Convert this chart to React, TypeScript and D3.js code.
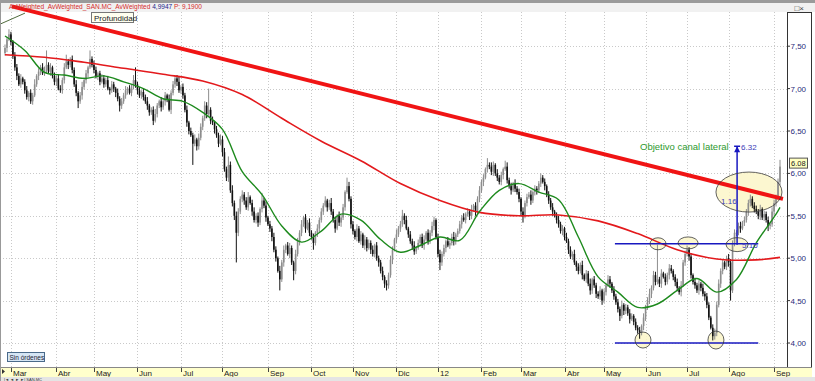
import React from 'react';
import * as d3 from 'd3';

// Daily closes (Feb-2011 tail .. Sep-2012), one per trading day
const closes = [
7.48,7.58,7.64,7.55,7.38, 7.25,7.15,7.05,7.12,7.08,
6.98,6.90,6.95,6.85,6.92, 7.05,7.15,7.20,7.25,7.18,
7.22,7.28,7.20,7.25,7.15, 7.08,7.12,7.00,6.98,7.10,
7.25,7.32,7.28,7.35,7.22, 7.05,6.95,6.85,6.92,7.02,
7.10,7.18,7.25,7.35,7.28, 7.22,7.15,7.18,7.08,7.12,
7.05,7.10,7.00,6.98,7.05, 7.00,6.95,6.88,6.80,6.85,
6.92,6.98,7.00,6.95,7.02, 7.10,7.05,6.98,6.92,6.96,
6.90,6.85,6.80,6.72,6.75, 6.62,6.70,6.80,6.85,6.78,
6.85,6.92,6.88,6.75,6.95, 7.05,7.12,7.08,6.98,7.02,
6.92,6.75,6.60,6.50,6.45, 6.35,6.40,6.32,6.42,6.55,
6.65,6.80,6.70,6.75,6.62, 6.60,6.52,6.45,6.35,6.40,
6.25,6.05,5.95,6.10,5.80, 5.65,5.50,5.30,5.55,5.70,
5.75,5.68,5.60,5.72,5.65, 5.55,5.45,5.50,5.42,5.58,
5.68,5.62,5.48,5.40,5.35, 5.25,5.10,5.00,4.85,4.75,
4.95,5.10,5.15,5.05,5.12, 4.95,4.85,5.05,5.20,5.30,
5.40,5.48,5.35,5.42,5.30, 5.25,5.18,5.30,5.35,5.45,
5.55,5.62,5.68,5.60,5.65, 5.55,5.45,5.35,5.50,5.42,
5.48,5.60,5.78,5.85,5.70, 5.40,5.32,5.25,5.35,5.20,
5.28,5.15,5.22,5.12,5.18, 5.10,5.05,5.15,5.00,4.95,
4.85,4.78,4.70,4.68,4.80, 4.98,5.10,5.22,5.28,5.35,
5.40,5.50,5.45,5.35,5.28, 5.20,5.15,5.08,5.12,5.18,
5.25,5.15,5.22,5.30,5.20, 5.30,5.38,5.45,5.25,5.05,
4.95,5.05,5.12,5.20,5.15, 5.18,5.25,5.20,5.28,5.32,
5.40,5.48,5.45,5.52,5.55, 5.50,5.58,5.62,5.55,5.70,
5.80,5.90,5.95,6.05,6.10, 6.08,6.02,6.10,6.00,5.95,
5.90,5.98,6.05,6.08,5.92, 5.85,5.80,5.88,5.82,5.78,
5.70,5.55,5.50,5.65,5.72, 5.75,5.68,5.78,5.82,5.80,
5.88,5.95,5.90,5.85,5.75, 5.68,5.60,5.55,5.50,5.45,
5.40,5.32,5.35,5.25,5.20, 5.10,5.02,5.05,4.95,4.90,
4.85,4.92,4.80,4.75,4.82, 4.70,4.62,4.75,4.68,4.58,
4.55,4.62,4.50,4.60,4.68, 4.75,4.70,4.62,4.55,4.48,
4.40,4.32,4.45,4.38,4.42, 4.35,4.28,4.32,4.25,4.18,
4.15,4.12,4.20,4.30,4.42, 4.50,4.58,4.65,4.80,4.72,
4.75,4.70,4.82,4.78,4.72, 4.80,4.88,4.85,4.78,4.72,
4.65,4.60,4.68,4.95,5.05, 5.10,5.02,4.80,4.72,4.68,
4.62,4.70,4.65,4.58,4.55, 4.45,4.30,4.18,4.08,4.12,
4.45,4.70,4.85,4.95,4.90, 5.00,4.95,4.62,5.18,5.30,
5.30,5.38,5.35,5.42,5.45, 5.55,5.65,5.70,5.62,5.58,
5.55,5.50,5.58,5.48,5.52, 5.45,5.38,5.40,5.55,5.65,
5.72,5.90,6.08
];
const firstOpen = 7.42;

// Upper / lower shadows, in cents
const upperWicks = [
4,3,6,3,2,5,4,3,5,2, 3,5,2,4,3,6,2,4,3,5, 4,17,3,5,2,4,3,5,4,3, 5,8,3,2,4,3,5,2,4,6,
3,4,2,10,3,5,4,2,3,5, 4,3,5,2,4,3,2,5,3,4, 3,5,2,4,3,6,15,3,4,2, 4,3,5,2,3,4,6,3,2,5,
3,4,2,5,3,4,3,4,6,2, 4,3,5,2,4,3,6,2,5,4, 3,5,4,25,3,5,2,4,3,6, 4,5,3,10,4,6,3,5,4,3,
5,3,4,6,2,4,5,3,4,2, 9,3,5,2,4,3,5,4,2,6, 3,5,2,4,6,3,2,5,4,3, 5,2,4,3,5,3,4,2,5,3,
4,3,5,2,4,6,3,4,2,5, 3,4,2,10,5,3,4,2,5,3, 4,2,5,3,4,3,5,2,4,3, 3,5,2,4,3,5,4,2,6,3,
4,7,3,5,2,4,3,5,2,4, 3,4,5,2,4,3,5,4,2,4, 5,3,4,2,5,3,4,6,2,3, 4,3,5,2,4,3,5,2,4,3,
5,3,4,2,8,3,5,4,2,5, 3,4,2,7,5,3,4,2,5,3, 4,2,5,3,4,3,5,2,4,3, 3,5,3,4,2,4,3,5,2,4,
5,3,4,2,5,3,4,3,5,2, 4,3,5,2,4,3,6,2,4,3, 3,5,2,4,3,5,4,2,5,3, 4,3,5,2,4,3,5,3,2,4,
3,4,2,5,3,4,6,3,5,4, 41,3,5,2,4,3,5,4,2,3, 4,2,5,3,4,5,3,4,2,5, 3,4,2,5,3,4,3,2,4,5,
4,5,3,4,2,3,5,4,3,4, 3,4,5,2,4,3,4,5,3,4, 4,3,5,2,4,3,4,3,5,4, 3,4,8
];
const lowerWicks = [
3,5,2,4,3,4,5,2,4,3, 4,3,5,3,4,2,3,5,4,2, 3,4,2,5,3,4,5,2,3,4, 4,2,5,3,4,3,4,8,3,5,
3,4,5,2,3,4,3,5,4,2, 4,3,2,5,3,4,5,3,7,4, 3,4,5,2,4,3,4,5,3,4, 4,3,5,4,3,5,2,4,3,5,
3,5,4,2,5,3,4,5,3,4, 4,3,5,4,2,25,3,5,4,3, 4,3,5,2,4,3,5,3,4,2, 5,3,4,5,3,4,5,35,4,3,
4,5,3,4,2,5,3,4,5,3, 4,3,5,2,4,5,3,4,2,13, 3,5,4,2,5,3,11,4,3,5, 4,3,5,2,4,3,8,3,5,4,
3,4,2,5,3,4,3,5,2,4, 5,3,4,2,3,5,4,3,5,2, 4,3,5,4,2,5,3,4,3,5, 3,4,5,6,4,3,5,2,4,3,
4,3,5,2,4,3,5,4,3,2, 4,3,5,2,4,3,4,5,3,4, 9,4,3,5,2,4,3,5,4,3, 3,5,2,4,3,5,4,3,5,4,
4,3,5,2,4,3,4,5,3,4, 3,4,5,2,4,3,5,2,4,3, 4,5,8,3,4,2,5,3,4,5, 3,4,2,5,3,4,3,5,2,4,
4,3,5,4,2,5,3,4,3,5, 4,3,5,2,4,3,5,4,3,5, 3,4,5,3,4,2,5,3,4,3, 4,6,3,5,4,3,5,2,4,3,
4,7,3,5,4,3,4,5,3,4, 3,4,5,2,4,3,5,3,4,5, 4,3,5,2,4,3,5,4,3,4, 3,5,4,3,5,4,3,2,5,4,
4,3,5,4,3,4,5,12,3,4, 4,3,5,2,4,3,5,4,3,4, 3,4,5,3,4,3,6,4,3,5, 4,3,4
];

// Short moving average (green), sampled every 10 sessions, last at session 392
const fastMA = [7.62,7.45,7.19,7.16,7.12,7.15,7.08,7.00,6.88,6.85,6.72,6.52,6.02,5.75,5.38,5.19,5.32,5.52,5.45,5.22,
  5.07,5.15,5.25,5.21,5.55,5.80,5.88,5.78,5.69,5.25,4.78,4.60,4.42,4.46,4.62,4.76,4.60,4.75,5.18,5.52,5.60];
// Long moving average (red), sampled every 20 sessions, last at session 392
const slowMA = [7.40,7.37,7.31,7.24,7.17,7.09,6.93,6.65,6.38,6.15,5.88,5.68,5.54,5.50,5.51,5.44,5.29,5.10,4.99,4.98,5.01];

const monthLabels = ['Mar','Abr','May','Jun','Jul','Ago','Sep','Oct','Nov','Dic','12','Feb','Mar','Abr','May','Jun','Jul','Ago','Sep'];
const monthStarts = [3,26,45,67,89,110,133,155,176,198,219,241,261,283,303,324,345,366,389];
const priceTicks = [4,4.5,5,5.5,6,6.5,7,7.5];

// Drawn annotations (session index, price)
const trendLine = [[3.5,7.97],[393.5,5.70]];
const topLeftLine = [[-2.5,7.76],[10.1,7.89]];
const channelTop = 5.17;
const channelBottom = 4.0;
const channelRange = [308.5, 381];
const targetIdx = 370.3;
const targetFrom = 5.16;
const targetTo = 6.32;
const ellipseIdx = [376.3, 330.3, 345.5, 370.3, 322.7, 359.6];
const ellipsePrice = [5.78, 5.17, 5.18, 5.16, 4.035, 4.035];
const lastPrice = 6.08;

export default function App() {
  const x = d3.scaleLinear().domain([0, 392]).range([5, 780]);
  const y = d3.scaleLinear().domain([4, 7.5]).range([343, 46.2]);
  const plotR = 787;
  const axisTop = 367;

  const bars = closes.map((c, i) => {
    const o = i === 0 ? firstOpen : closes[i - 1];
    const h = Math.max(o, c) + upperWicks[i] / 100;
    const l = Math.min(o, c) - lowerWicks[i] / 100;
    return { i, o, c, h, l, up: c >= o };
  });

  const fastPts = fastMA.map((v, k) => [k < 40 ? k * 10 : 392, v]);
  const slowPts = slowMA.map((v, k) => [k < 20 ? k * 20 : 392, v]);
  const line = d3.line<number[]>().x(d => x(d[0])).y(d => y(d[1])).curve(d3.curveCatmullRom.alpha(0.5));
  const straight = d3.line<number[]>().x(d => x(d[0])).y(d => y(d[1]));

  const radii = [[33, 20], [8, 6], [10, 6], [11, 7], [8, 8], [8, 9]];
  const fmt = (v: number) => v.toFixed(2).replace('.', ',');
  const font = "'Liberation Sans', Arial, sans-serif";
  const tx = x(targetIdx);
  const tagY = y(lastPrice) - 2;

  return (
    <svg width={815} height={381} style={{ position: 'absolute', left: 0, top: 0, background: '#fff', fontFamily: font }}>
      <defs>
        <clipPath id="plot"><rect x={0} y={3} width={plotR} height={axisTop - 3} /></clipPath>
      </defs>
      <rect x={0} y={0} width={815} height={381} fill="#fff" />
      <rect x={0} y={3} width={815} height={9} fill="#f1f1f1" />
      <rect x={0} y={0} width={815} height={3} fill="#9a9a9a" />

      {/* grid */}
      <g stroke="#c9c9c9" strokeWidth={1} strokeDasharray="1,2">
        {priceTicks.map(t => <line key={'h' + t} x1={0} x2={plotR} y1={Math.round(y(t)) + 0.5} y2={Math.round(y(t)) + 0.5} />)}
        {monthStarts.map((m, k) => <line key={'v' + k} x1={Math.round(x(m)) + 0.5} x2={Math.round(x(m)) + 0.5} y1={12} y2={axisTop} />)}
      </g>

      <g clipPath="url(#plot)">
        {/* ellipse fills */}
        {ellipseIdx.map((ei, k) => (
          <ellipse key={'ef' + k} cx={x(ei)} cy={y(ellipsePrice[k])} rx={radii[k][0]} ry={radii[k][1]} fill="#fbf6c8" opacity={0.85} />
        ))}
        {/* candles */}
        {bars.map(b => {
          const col = b.up ? '#8d8d8d' : '#111';
          const yt = y(Math.max(b.o, b.c));
          const hh = Math.max(1, Math.abs(y(b.o) - y(b.c)));
          return (
            <g key={b.i}>
              <line x1={x(b.i)} x2={x(b.i)} y1={y(b.h)} y2={y(b.l)} stroke={col} strokeWidth={1} />
              <rect x={x(b.i) - 0.8} y={yt} width={1.6} height={hh} fill={col} />
            </g>
          );
        })}
        <path d={line(slowPts) || ''} fill="none" stroke="#e3191c" strokeWidth={1.6} />
        <path d={line(fastPts) || ''} fill="none" stroke="#1d8a1d" strokeWidth={1.4} />
        <path d={straight(topLeftLine) || ''} fill="none" stroke="#4f6b3c" strokeWidth={1} />
        <path d={straight(trendLine) || ''} fill="none" stroke="#f01414" strokeWidth={4} />

        {/* channel */}
        <g stroke="#1818c0" strokeWidth={1.5}>
          <line x1={x(channelRange[0])} x2={x(channelRange[1])} y1={y(channelTop)} y2={y(channelTop)} />
          <line x1={x(channelRange[0])} x2={x(channelRange[1])} y1={y(channelBottom)} y2={y(channelBottom)} />
          <line x1={tx} x2={tx} y1={y(targetFrom)} y2={y(targetTo)} />
          <line x1={tx - 3} x2={tx + 3} y1={y(targetTo)} y2={y(targetTo)} />
        </g>
        <polygon points={`${tx},${y(targetTo)} ${tx - 3},${y(targetTo) + 6} ${tx + 3},${y(targetTo) + 6}`} fill="#1818c0" />
        {/* ellipse outlines */}
        {ellipseIdx.map((ei, k) => (
          <ellipse key={'eo' + k} cx={x(ei)} cy={y(ellipsePrice[k])} rx={radii[k][0]} ry={radii[k][1]} fill="none" stroke="#3a3a3a" strokeWidth={0.8} />
        ))}
        <text x={tx + 4} y={y(targetTo) + 4} fontSize={8} fill="#3b3bb8">6.32</text>
        <text x={tx - 16} y={y((targetFrom + targetTo) / 2) + 9} fontSize={8} fill="#3b3bb8">1.16</text>
        <text x={tx + 5} y={y(targetFrom) + 3} fontSize={8} fill="#3b3bb8">5.16</text>
        <text x={640} y={150} fontSize={9.5} fill="#2e9a2e">Objetivo canal lateral</text>
      </g>

      {/* title */}
      <text x={9} y={8.5} fontSize={6.5} textLength={193} lengthAdjust="spacingAndGlyphs">
        <tspan fill="#d42a2a">AvWeighted_AvWeighted_SAN.MC_AvWeighted</tspan>
        <tspan fill="#22228a"> 4,9947</tspan>
        <tspan fill="#d42a2a"> P: 9,1900</tspan>
      </text>
      <rect x={91.5} y={12.5} width={42} height={10} fill="#fffff0" stroke="#777" strokeWidth={1} />
      <text x={94} y={20.5} fontSize={8} fill="#222">Profundidad</text>
      <text x={790} y={11} fontSize={8} fill="#444">_□×</text>

      {/* right axis */}
      <rect x={787.5} y={12.5} width={24} height={axisTop - 12} fill="#fff" stroke="#333" strokeWidth={1} />
      {priceTicks.map(t => (
        <g key={'t' + t}>
          <line x1={787} x2={790} y1={y(t)} y2={y(t)} stroke="#333" />
          <text x={790.5} y={y(t) + 3} fontSize={8} fill="#2a2a7a">{fmt(t)}</text>
        </g>
      ))}
      <rect x={789.5} y={tagY - 6.5} width={18} height={10} fill="#ffffc0" stroke="#555" strokeWidth={1} />
      <text x={791} y={tagY + 1.5} fontSize={7.5} fill="#222">{lastPrice.toFixed(2)}</text>

      {/* orders button */}
      <rect x={7.5} y={352.5} width={37} height={9} fill="#d6e6f5" stroke="#4a6a8a" strokeWidth={1} />
      <text x={9.5} y={359.5} fontSize={6.5} fill="#223">Sin órdenes</text>

      {/* time axis */}
      <rect x={0} y={axisTop} width={812} height={10} fill="#ffffcc" />
      <line x1={0} x2={812} y1={axisTop + 0.5} y2={axisTop + 0.5} stroke="#888" />
      <polygon points={`2,369 5,371.5 2,374`} fill="#333" />
      {monthStarts.map((m, k) => (
        <g key={'m' + k}>
          <line x1={Math.round(x(m)) + 0.5} x2={Math.round(x(m)) + 0.5} y1={axisTop + 1} y2={axisTop + 5} stroke="#444" />
          <text x={Math.round(x(m)) + 2} y={axisTop + 8.5} fontSize={8} fill="#222">{monthLabels[k]}</text>
        </g>
      ))}
      <rect x={0} y={377} width={815} height={4} fill="#e4e4e4" />
      <text x={4} y={380.8} fontSize={4} fill="#333">|◄ ◄ ► ►| SAN.MC</text>
      <line x1={0.5} x2={0.5} y1={3} y2={381} stroke="#999" />
    </svg>
  );
}
